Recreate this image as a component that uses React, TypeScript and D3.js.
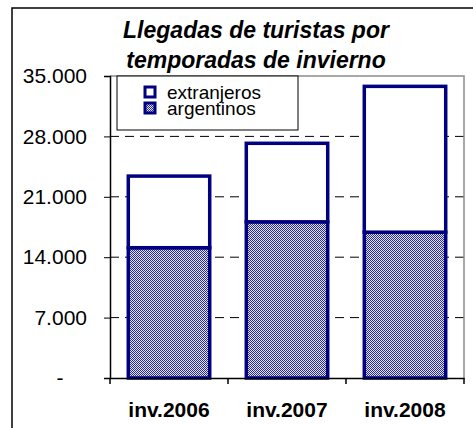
import React, { useRef, useEffect } from "react";
import * as d3 from "d3";

const seasons = ["inv.2006", "inv.2007", "inv.2008"];
const argentinos = [15100, 18100, 16900];
const extranjeros = [8300, 9100, 16900];
const yTicks = [0, 7000, 14000, 21000, 28000, 35000];
const titleLines = ["Llegadas de turistas por", "temporadas de invierno"];

const App = () => {
  const chartRef = useRef<SVGSVGElement | null>(null);

  useEffect(() => {
    const svg = d3.select(chartRef.current);
    svg.selectAll("*").remove();

    const W = 473;
    const H = 428;
    const plot = { left: 110, top: 76, right: 464, bottom: 378 };
    const font = "'Liberation Sans', Arial, sans-serif";
    const navy = "#000080";

    const rows = seasons.map((s, i) => ({
      season: s,
      argentinos: argentinos[i],
      extranjeros: extranjeros[i],
    }));
    const stacked = d3.stack<any>().keys(["argentinos", "extranjeros"])(rows);

    const x = d3.scaleBand().domain(seasons).range([plot.left, plot.right]).paddingInner(0.31).paddingOuter(0.155);
    const y = d3.scaleLinear().domain([0, 35000]).range([plot.bottom, plot.top]);

    svg.attr("width", W).attr("height", H);

    const defs = svg.append("defs");
    const pat = defs
      .append("pattern")
      .attr("id", "checker")
      .attr("patternUnits", "userSpaceOnUse")
      .attr("width", 2)
      .attr("height", 2);
    pat.append("rect").attr("width", 2).attr("height", 2).attr("fill", "#e4e4f6");
    pat.append("rect").attr("width", 1).attr("height", 1).attr("fill", "#2a2a98");
    pat.append("rect").attr("x", 1).attr("y", 1).attr("width", 1).attr("height", 1).attr("fill", "#2a2a98");

    // outer frame
    svg
      .append("rect")
      .attr("x", 12)
      .attr("y", 8)
      .attr("width", 500)
      .attr("height", 440)
      .attr("fill", "white")
      .attr("stroke", "black")
      .attr("stroke-width", 1.5);

    // title
    svg
      .append("g")
      .selectAll("text")
      .data(titleLines)
      .enter()
      .append("text")
      .attr("x", 256)
      .attr("y", (_, i) => 38 + i * 30)
      .attr("text-anchor", "middle")
      .style("font-family", font)
      .style("font-size", "23px")
      .style("font-weight", "bold")
      .style("font-style", "italic")
      .text((d) => d);

    // gridlines
    svg
      .append("g")
      .selectAll("line")
      .data(yTicks.filter((t) => t > 0 && t < 35000))
      .enter()
      .append("line")
      .attr("x1", plot.left)
      .attr("x2", plot.right)
      .attr("y1", (d) => y(d))
      .attr("y2", (d) => y(d))
      .attr("stroke", "black")
      .attr("stroke-width", 1)
      .attr("stroke-dasharray", "9,6");

    // plot border top/right
    svg
      .append("path")
      .attr("d", `M${plot.left},${plot.top}H${plot.right}V${plot.bottom}`)
      .attr("fill", "none")
      .attr("stroke", "#8c8c8c")
      .attr("stroke-width", 1.5);

    // bars
    const layer = svg
      .append("g")
      .selectAll("g")
      .data(stacked)
      .enter()
      .append("g")
      .attr("fill", (d) => (d.key === "argentinos" ? "url(#checker)" : "white"));

    layer
      .selectAll("rect")
      .data((d) => d)
      .enter()
      .append("rect")
      .attr("x", (d) => x(d.data.season)!)
      .attr("y", (d) => y(d[1]))
      .attr("width", x.bandwidth())
      .attr("height", (d) => y(d[0]) - y(d[1]))
      .attr("stroke", navy)
      .attr("stroke-width", 3.5);

    // y axis
    const yAxis = svg
      .append("g")
      .attr("transform", `translate(${plot.left},0)`)
      .call(
        d3
          .axisLeft(y)
          .tickValues(yTicks)
          .tickSize(6)
          .tickFormat((d) => (d === 0 ? "-" : d3.format(",")(d as number).replace(/,/g, ".")))
      );
    yAxis.select(".domain").attr("stroke", "black").attr("stroke-width", 1.5);
    yAxis.selectAll(".tick line").attr("stroke", "black");
    yAxis
      .selectAll(".tick text")
      .attr("x", (d: any) => (d === 0 ? -50 : -23))
      .attr("text-anchor", (d: any) => (d === 0 ? "middle" : "end"))
      .style("font-family", font)
      .style("font-size", "21px")
      .attr("fill", "black");

    // x axis
    const xAxis = svg
      .append("g")
      .attr("transform", `translate(0,${plot.bottom})`)
      .call(d3.axisBottom(x).tickSize(0).tickPadding(24));
    xAxis.select(".domain").attr("stroke", "black").attr("stroke-width", 1.5);
    xAxis
      .selectAll(".tick text")
      .style("font-family", font)
      .style("font-size", "21px")
      .style("font-weight", "bold")
      .attr("fill", "black");
    xAxis
      .append("g")
      .selectAll("line")
      .data(d3.range(seasons.length + 1))
      .enter()
      .append("line")
      .attr("x1", (i) => plot.left + i * ((plot.right - plot.left) / seasons.length))
      .attr("x2", (i) => plot.left + i * ((plot.right - plot.left) / seasons.length))
      .attr("y1", 0)
      .attr("y2", 6)
      .attr("stroke", "black")
      .attr("stroke-width", 1.5);

    // legend
    const legend = svg.append("g").attr("transform", "translate(117,76)");
    legend
      .append("rect")
      .attr("width", 181)
      .attr("height", 54)
      .attr("fill", "white")
      .attr("stroke", "black")
      .attr("stroke-width", 1);
    const items = [
      { label: "extranjeros", fill: "white" },
      { label: "argentinos", fill: "url(#checker)" },
    ];
    const li = legend
      .selectAll(".legend")
      .data(items)
      .enter()
      .append("g")
      .attr("transform", (_, i) => `translate(28,${11 + i * 16})`);
    li.append("rect")
      .attr("width", 10)
      .attr("height", 10)
      .attr("fill", (d) => d.fill)
      .attr("stroke", navy)
      .attr("stroke-width", 3);
    li.append("text")
      .attr("x", 22)
      .attr("y", 5)
      .attr("dy", "0.36em")
      .style("font-family", font)
      .style("font-size", "19px")
      .text((d) => d.label);
  }, []);

  return (
    <div style={{ position: "absolute", left: 0, top: 0 }}>
      <svg ref={chartRef} style={{ display: "block" }}></svg>
    </div>
  );
};

export default App;
